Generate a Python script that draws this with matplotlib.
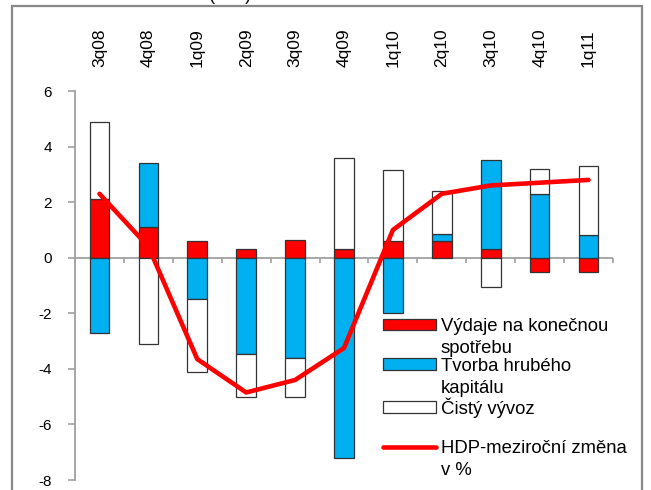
import numpy as np
import matplotlib.pyplot as plt
from matplotlib.patches import Rectangle

# data
quarters = ['3q08', '4q08', '1q09', '2q09', '3q09', '4q09', '1q10', '2q10', '3q10', '4q10', '1q11']
spotreba = [2.1, 1.1, 0.6, 0.3, 0.65, 0.3, 0.6, 0.6, 0.3, -0.5, -0.5]
kapital = [-2.7, 2.3, -1.5, -3.45, -3.6, -7.2, -2.0, 0.25, 3.2, 2.3, 0.8]
vyvoz = [2.8, -3.1, -2.6, -1.55, -1.4, 3.3, 2.55, 1.55, -1.05, 0.9, 2.5]
hdp = [2.3, 0.4, -3.65, -4.85, -4.4, -3.25, 1.0, 2.3, 2.6, 2.7, 2.8]

names = ['Výdaje na konečnou', 'Tvorba hrubého', 'Čistý vývoz', 'HDP-meziroční změna']
names2 = ['spotřebu', 'kapitálu', '', 'v %']
colors = ['#ff0000', '#00b0f0', 'white']

plt.rcParams['font.family'] = ['Liberation Sans', 'DejaVu Sans']
plt.rcParams['axes.unicode_minus'] = False

fig = plt.figure(figsize=(6.51, 4.90), dpi=100)
ax = fig.add_axes([75/651, 1 - 480/490, (613 - 75)/651, (480 - 91)/490])

x = np.arange(len(quarters))
pos = np.zeros(len(x))
neg = np.zeros(len(x))
bars = []
for vals, c in zip([spotreba, kapital, vyvoz], colors):
    v = np.array(vals)
    base = np.where(v >= 0, pos, neg)
    b = ax.bar(x, v, 0.4, bottom=base, color=c, edgecolor='#333333', linewidth=0.9, zorder=2)
    bars.append(b)
    pos = pos + np.clip(v, 0, None)
    neg = neg + np.clip(v, None, 0)

ln, = ax.plot(x, hdp, color='#ff0000', lw=3.3, zorder=3,
              solid_capstyle='round', solid_joinstyle='round')

# zero line with small ticks between quarters
ax.axhline(0, color='#a0a0a0', lw=1.3, zorder=1)
edges = np.arange(len(x) + 1) - 0.5
ax.plot(edges, np.zeros(len(edges)), ls='', marker=3, ms=3.6, mew=1.2, color='#a0a0a0', zorder=1)

ax.set_xlim(-0.5, len(x) - 0.5)
ax.set_ylim(-8, 6)
ax.set_yticks(np.arange(-8, 7, 2))
ax.set_xticks(x, quarters)
for s in ['top', 'right', 'bottom']:
    ax.spines[s].set_visible(False)
ax.spines['left'].set_color('#a0a0a0')
ax.spines['left'].set_linewidth(1.3)
ax.tick_params(axis='y', direction='out', length=5, width=1.2, color='#a0a0a0', pad=11.5, labelsize=11)
ax.tick_params(axis='x', top=True, bottom=False, labeltop=True, labelbottom=False,
               length=0, pad=17, labelsize=12.5, labelrotation=90)

leg = ax.legend(bars + [ln], names, loc='upper left', bbox_to_anchor=(383/651, 1 - 318/490),
                bbox_transform=fig.transFigure, frameon=False, fontsize=13.3,
                handlelength=2.85, handletextpad=0.28, handleheight=0.55,
                labelspacing=1.22, borderpad=0, borderaxespad=0)

# second lines of the wrapped legend labels, placed under the first lines
fig.canvas.draw()
for t, s in zip(leg.get_texts(), names2):
    if s:
        bb = t.get_window_extent()
        fig.text(bb.x0 / 651, (bb.y0 - 18) / 490, s, fontsize=13.3, va='baseline', ha='left')

# outer frame and the cut-off title
fig.patches.append(Rectangle((12/651, -0.1), (642 - 12)/651, 1.1 - 6/490, transform=fig.transFigure,
                             fill=False, ec='#888888', lw=1.6))
fig.text(230/651, 1.0, '(v %)', ha='center', va='baseline', fontsize=13)

fig.savefig('out.png', dpi=100)
